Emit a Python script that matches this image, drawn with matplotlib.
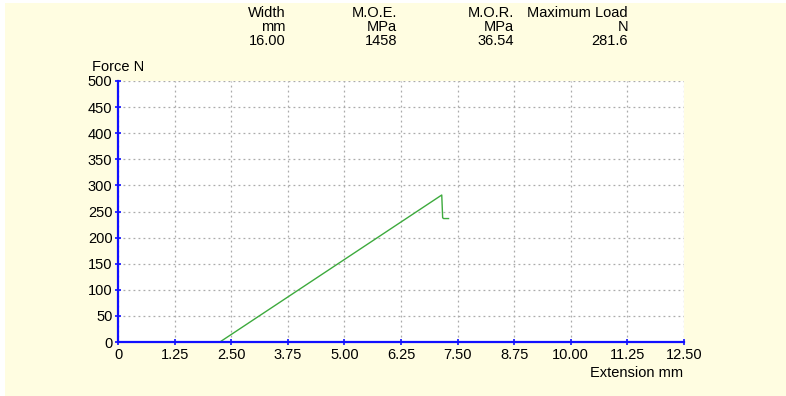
import matplotlib.pyplot as plt
from matplotlib.patches import Rectangle

# Test results
headers = ["Width", "M.O.E.", "M.O.R.", "Maximum Load"]
units = ["mm", "MPa", "MPa", "N"]
values = ["16.00", "1458", "36.54", "281.6"]

# Force-extension curve
extension = [0.0, 2.25, 7.15, 7.17, 7.19, 7.30]
force = [0.0, 0.0, 281.6, 238.0, 236.5, 236.5]

x_ticks = [0, 1.25, 2.50, 3.75, 5.00, 6.25, 7.50, 8.75, 10.00, 11.25, 12.50]
x_labels = ["0", "1.25", "2.50", "3.75", "5.00", "6.25", "7.50", "8.75", "10.00", "11.25", "12.50"]
y_ticks = list(range(0, 501, 50))

W, H = 786, 396
bg = "#FFFDE1"
blue = "#1010FF"
fs = 10.5

plt.rcParams['font.family'] = ['Liberation Sans', 'DejaVu Sans']

fig = plt.figure(figsize=(W / 100, H / 100), dpi=100)
fig.patch.set_facecolor("white")
fig.patches.append(Rectangle((5 / W, 0), 1 - 5 / W, 1 - 3 / H, transform=fig.transFigure,
                             facecolor=bg, edgecolor="none", zorder=-10))

ax = fig.add_axes([118 / W, (H - 342) / H, 566 / W, 261 / H])
ax.set_facecolor("white")
ax.plot(extension, force, color="#3DAA3D", lw=1.0, zorder=2)

ax.set_xlim(0, 12.5)
ax.set_ylim(0, 500)
ax.set_xticks(x_ticks)
ax.set_xticklabels(x_labels)
ax.set_yticks(y_ticks)
ax.grid(True, color="#ABABAB", linestyle=(0, (1.5, 2.5)), lw=0.9)
ax.set_axisbelow(True)

for s in ["top", "right"]:
    ax.spines[s].set_visible(False)
for s in ["left", "bottom"]:
    ax.spines[s].set_color(blue)
    ax.spines[s].set_linewidth(1.6)
    ax.spines[s].set_zorder(3)
ax.tick_params(axis="both", direction="inout", length=4, width=1.2, color=blue,
               labelsize=fs, labelcolor="black", pad=2)

fig.text(92 / W, 1 - 67 / H, "Force N", fontsize=fs, ha="left", va="center")
fig.text(683 / W, 1 - 373 / H, "Extension mm", fontsize=fs, ha="right", va="center")

# Header block, right-aligned columns
col_x = [286, 397, 514, 628]
row_y = [13, 27, 41]
for i in range(len(headers)):
    for j, txt in enumerate([headers[i], units[i], values[i]]):
        fig.text(col_x[i] / W, 1 - row_y[j] / H, txt, fontsize=fs,
                 ha="right", va="center")

fig.savefig("out.png", dpi=100, facecolor=fig.get_facecolor())
